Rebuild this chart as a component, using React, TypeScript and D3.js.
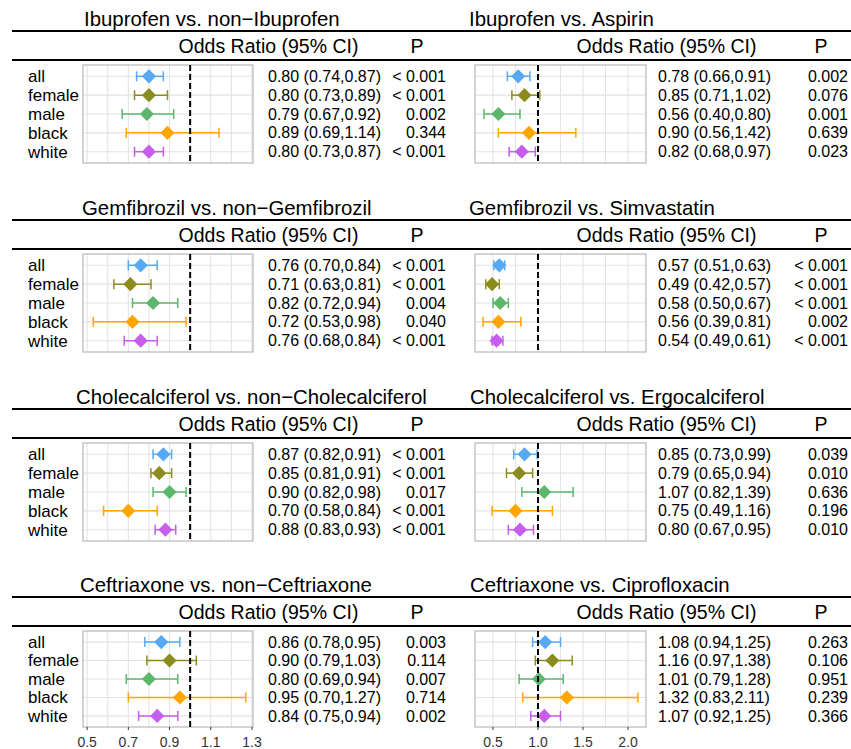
import React, { useEffect, useRef } from "react";
import * as d3 from "d3";

const groups = ["all", "female", "male", "black", "white"];
const groupColors = ["#56a9f2", "#8c8c1e", "#5cb76c", "#ffa500", "#c65ded"];

const titles = [
  "Ibuprofen vs. non\u2212Ibuprofen",
  "Ibuprofen vs. Aspirin",
  "Gemfibrozil vs. non\u2212Gemfibrozil",
  "Gemfibrozil vs. Simvastatin",
  "Cholecalciferol vs. non\u2212Cholecalciferol",
  "Cholecalciferol vs. Ergocalciferol",
  "Ceftriaxone vs. non\u2212Ceftriaxone",
  "Ceftriaxone vs. Ciprofloxacin",
];

// one row per panel, columns follow groups
const oddsRatio = [
  [0.8, 0.8, 0.79, 0.89, 0.8],
  [0.78, 0.85, 0.56, 0.9, 0.82],
  [0.76, 0.71, 0.82, 0.72, 0.76],
  [0.57, 0.49, 0.58, 0.56, 0.54],
  [0.87, 0.85, 0.9, 0.7, 0.88],
  [0.85, 0.79, 1.07, 0.75, 0.8],
  [0.86, 0.9, 0.8, 0.95, 0.84],
  [1.08, 1.16, 1.01, 1.32, 1.07],
];
const ciLow = [
  [0.74, 0.73, 0.67, 0.69, 0.73],
  [0.66, 0.71, 0.4, 0.56, 0.68],
  [0.7, 0.63, 0.72, 0.53, 0.68],
  [0.51, 0.42, 0.5, 0.39, 0.49],
  [0.82, 0.81, 0.82, 0.58, 0.83],
  [0.73, 0.65, 0.82, 0.49, 0.67],
  [0.78, 0.79, 0.69, 0.7, 0.75],
  [0.94, 0.97, 0.79, 0.83, 0.92],
];
const ciHigh = [
  [0.87, 0.89, 0.92, 1.14, 0.87],
  [0.91, 1.02, 0.8, 1.42, 0.97],
  [0.84, 0.81, 0.94, 0.98, 0.84],
  [0.63, 0.57, 0.67, 0.81, 0.61],
  [0.91, 0.91, 0.98, 0.84, 0.93],
  [0.99, 0.94, 1.39, 1.16, 0.95],
  [0.95, 1.03, 0.94, 1.27, 0.94],
  [1.25, 1.38, 1.28, 2.11, 1.25],
];
const pText = [
  ["< 0.001", "< 0.001", "0.002", "0.344", "< 0.001"],
  ["0.002", "0.076", "0.001", "0.639", "0.023"],
  ["< 0.001", "< 0.001", "0.004", "0.040", "< 0.001"],
  ["< 0.001", "< 0.001", "< 0.001", "0.002", "< 0.001"],
  ["< 0.001", "< 0.001", "0.017", "< 0.001", "< 0.001"],
  ["0.039", "0.010", "0.636", "0.196", "0.010"],
  ["0.003", "0.114", "0.007", "0.714", "0.002"],
  ["0.263", "0.106", "0.951", "0.239", "0.366"],
];

const leftGrid = d3.range(5, 14).map((d) => d / 10);
const leftTicks = [0.5, 0.7, 0.9, 1.1, 1.3];
const rightGrid = d3.range(2, 9).map((d) => d / 4);
const rightTicks = [0.5, 1.0, 1.5, 2.0];

const FONT = "'Liberation Sans', Arial, Helvetica, sans-serif";

const columns = [
  {
    box: [83, 253], domain: [0.48, 1.305], grid: leftGrid, ticks: leftTicks,
    line: [12, 436], headerX: 268.5, numX: 268, pHeadX: 417, pX: 446, labels: true,
  },
  {
    box: [475, 646], domain: [0.3, 2.2], grid: rightGrid, ticks: rightTicks,
    line: [436, 851], headerX: 666.5, numX: 658, pHeadX: 821, pX: 848, labels: false,
  },
];
const titleXs = [84, 469, 82, 469, 76, 470, 80, 470];
const rowOffsets = [0, 189, 378, 566];

function App() {
  const svgRef = useRef(null);

  useEffect(() => {
    const svg = d3.select(svgRef.current);
    svg.selectAll("*").remove();
    svg.append("rect").attr("width", 851).attr("height", 749).attr("fill", "#fff");

    titles.forEach((title, i) => {
      const col = columns[i % 2];
      const row = Math.floor(i / 2);
      const line1 = 31 + rowOffsets[row];
      const boxTop = line1 + 34;
      const boxH = row === 3 ? 96 : 98;
      const g = svg.append("g").style("font-family", FONT);

      const x = d3.scaleLinear().domain(col.domain).range(col.box);
      const y = d3.scalePoint().domain(groups).range([boxTop, boxTop + boxH]).padding(0.6);

      g.append("text").attr("x", titleXs[i]).attr("y", line1 - 5)
        .attr("font-size", 20.4).text(title);
      g.append("line").attr("x1", col.line[0]).attr("x2", col.line[1])
        .attr("y1", line1).attr("y2", line1).attr("stroke", "#000").attr("stroke-width", 2);
      g.append("text").attr("x", col.headerX).attr("y", line1 + 22)
        .attr("text-anchor", "middle").attr("font-size", 19.5).text("Odds Ratio (95% CI)");
      g.append("text").attr("x", col.pHeadX).attr("y", line1 + 22)
        .attr("text-anchor", "middle").attr("font-size", 19.5).text("P");
      g.append("line").attr("x1", col.line[0]).attr("x2", col.line[1])
        .attr("y1", line1 + 29).attr("y2", line1 + 29).attr("stroke", "#000").attr("stroke-width", 2);

      // grid
      g.selectAll(".vgrid").data(col.grid).enter().append("line")
        .attr("x1", (d) => x(d)).attr("x2", (d) => x(d))
        .attr("y1", boxTop).attr("y2", boxTop + boxH)
        .attr("stroke", "#e3e3e3").attr("stroke-width", 1.1);
      g.selectAll(".hgrid").data(groups).enter().append("line")
        .attr("x1", col.box[0]).attr("x2", col.box[1])
        .attr("y1", (d) => y(d)).attr("y2", (d) => y(d))
        .attr("stroke", "#e3e3e3").attr("stroke-width", 1.1);
      g.append("rect").attr("x", col.box[0]).attr("y", boxTop)
        .attr("width", col.box[1] - col.box[0]).attr("height", boxH)
        .attr("fill", "none").attr("stroke", "#bdbdbd").attr("stroke-width", 1.3);

      const rows = groups.map((grp, k) => ({
        grp, color: groupColors[k], est: oddsRatio[i][k], lo: ciLow[i][k], hi: ciHigh[i][k], p: pText[i][k],
      }));

      const bars = g.selectAll(".bar").data(rows).enter().append("g")
        .attr("stroke", (d) => d.color).attr("stroke-width", 1.5);
      bars.append("line").attr("x1", (d) => x(d.lo)).attr("x2", (d) => x(d.hi))
        .attr("y1", (d) => y(d.grp)).attr("y2", (d) => y(d.grp));
      bars.append("line").attr("x1", (d) => x(d.lo)).attr("x2", (d) => x(d.lo))
        .attr("y1", (d) => y(d.grp) - 5).attr("y2", (d) => y(d.grp) + 5);
      bars.append("line").attr("x1", (d) => x(d.hi)).attr("x2", (d) => x(d.hi))
        .attr("y1", (d) => y(d.grp) - 5).attr("y2", (d) => y(d.grp) + 5);

      g.selectAll(".pt").data(rows).enter().append("path")
        .attr("d", d3.symbol(d3.symbolSquare, 100))
        .attr("transform", (d) => `translate(${x(d.est)},${y(d.grp)}) rotate(45)`)
        .attr("fill", (d) => d.color);

      g.append("line").attr("x1", x(1)).attr("x2", x(1))
        .attr("y1", boxTop).attr("y2", boxTop + boxH)
        .attr("stroke", "#000").attr("stroke-width", 2).attr("stroke-dasharray", "6,3");

      if (col.labels) {
        g.selectAll(".lab").data(rows).enter().append("text")
          .attr("x", 28).attr("y", (d) => y(d.grp)).attr("dy", "0.35em")
          .attr("font-size", 17).text((d) => d.grp);
      }
      g.selectAll(".num").data(rows).enter().append("text")
        .attr("x", col.numX).attr("y", (d) => y(d.grp)).attr("dy", "0.35em")
        .attr("font-size", 16)
        .text((d) => `${d.est.toFixed(2)} (${d.lo.toFixed(2)},${d.hi.toFixed(2)})`);
      g.selectAll(".pv").data(rows).enter().append("text")
        .attr("x", col.pX).attr("y", (d) => y(d.grp)).attr("dy", "0.35em")
        .attr("text-anchor", "end").attr("font-size", 16).text((d) => d.p);

      if (row === 3) {
        const axis = g.append("g");
        axis.selectAll("line").data(col.ticks).enter().append("line")
          .attr("x1", (d) => x(d)).attr("x2", (d) => x(d))
          .attr("y1", boxTop + boxH).attr("y2", boxTop + boxH + 3)
          .attr("stroke", "#333").attr("stroke-width", 1);
        axis.selectAll("text").data(col.ticks).enter().append("text")
          .attr("x", (d) => x(d)).attr("y", boxTop + boxH + 15).attr("dy", "0.35em")
          .attr("text-anchor", "middle").attr("font-size", 14).attr("fill", "#333")
          .text((d) => d3.format(".1f")(d));
      }
    });
  }, []);

  return (
    <div style={{ position: "absolute", left: 0, top: 0 }}>
      <svg ref={svgRef} width={851} height={749} style={{ display: "block" }} />
    </div>
  );
}

export default App;
